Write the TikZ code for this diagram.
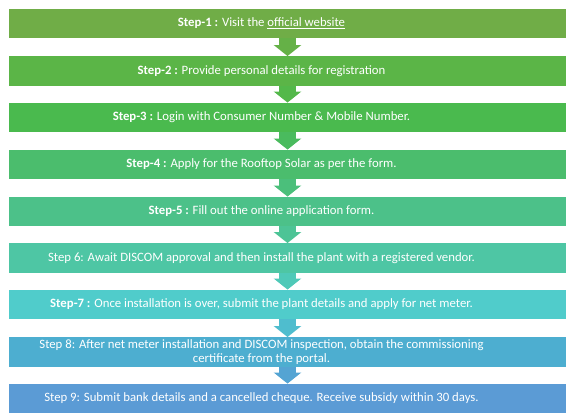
\documentclass[tikz,border=0pt]{standalone}
\usepackage{fontspec}
\setmainfont{Carlito}
\usepackage{xcolor}
\usetikzlibrary{arrows.meta, positioning, calc}

\definecolor{stepone}{HTML}{70AD47}
\definecolor{steptwo}{HTML}{5BB547}
\definecolor{stepthree}{HTML}{4ABA4E}
\definecolor{stepfour}{HTML}{4BBD6D}
\definecolor{stepfive}{HTML}{4CC189}
\definecolor{stepsix}{HTML}{4EC6A4}
\definecolor{stepseven}{HTML}{50CCCB}
\definecolor{stepeight}{HTML}{4DAED0}
\definecolor{stepnine}{HTML}{5B9BD5}

\begin{document}
\begin{tikzpicture}[
  x=1bp, y=-1bp,
  stepbox/.style={minimum width=557bp, minimum height=29.5bp, inner sep=0pt},
  steptext/.style={xshift=-26bp, inner sep=0pt, align=center, text=white, font=\fontsize{12.8}{14}\selectfont},
  downarrow/.style={line width=17bp, line cap=butt, -{Triangle[width=27bp, length=11bp]}}
]
\useasboundingbox (0,0) rectangle (572,415);
\node[stepbox, fill=stepone, label={[steptext]center:{\textbf{Step-1 :} Visit the \underline{official website}}}] at (287.5,23.5) (s1) {};
\node[stepbox, fill=steptwo, label={[steptext]center:{\textbf{Step-2 :} Provide personal details for registration}}] at (287.5,71) (s2) {};
\node[stepbox, fill=stepthree, label={[steptext]center:{\textbf{Step-3 :} Login with Consumer Number \& Mobile Number.}}] at (287.5,117.5) (s3) {};
\node[stepbox, fill=stepfour, label={[steptext]center:{\textbf{Step-4 :} Apply for the Rooftop Solar as per the form.}}] at (287.5,164.5) (s4) {};
\node[stepbox, fill=stepfive, label={[steptext]center:{\textbf{Step-5 :} Fill out the online application form.}}] at (287.5,211.5) (s5) {};
\node[stepbox, fill=stepsix, label={[steptext]center:{Step 6: Await DISCOM approval and then install the plant with a registered vendor.}}] at (287.5,258) (s6) {};
\node[stepbox, fill=stepseven, label={[steptext]center:{\textbf{Step-7 :} Once installation is over, submit the plant details and apply for net meter.}}] at (287.5,304.5) (s7) {};
\node[stepbox, fill=stepeight, label={[steptext]center:{Step 8: After net meter installation and DISCOM inspection, obtain the commissioning\\certificate from the portal.}}] at (287.5,352) (s8) {};
\node[stepbox, fill=stepnine, label={[steptext]center:{Step 9: Submit bank details and a cancelled cheque. Receive subsidy within 30 days.}}] at (287.5,398.5) (s9) {};
\draw[downarrow, stepone!50!steptwo] (s1.south) -- (s2.north);
\draw[downarrow, steptwo!50!stepthree] (s2.south) -- (s3.north);
\draw[downarrow, stepthree!50!stepfour] (s3.south) -- (s4.north);
\draw[downarrow, stepfour!50!stepfive] (s4.south) -- (s5.north);
\draw[downarrow, stepfive!50!stepsix] (s5.south) -- (s6.north);
\draw[downarrow, stepsix!50!stepseven] (s6.south) -- (s7.north);
\draw[downarrow, stepseven!50!stepeight] (s7.south) -- (s8.north);
\draw[downarrow, stepeight!50!stepnine] (s8.south) -- (s9.north);
\end{tikzpicture}
\end{document}
